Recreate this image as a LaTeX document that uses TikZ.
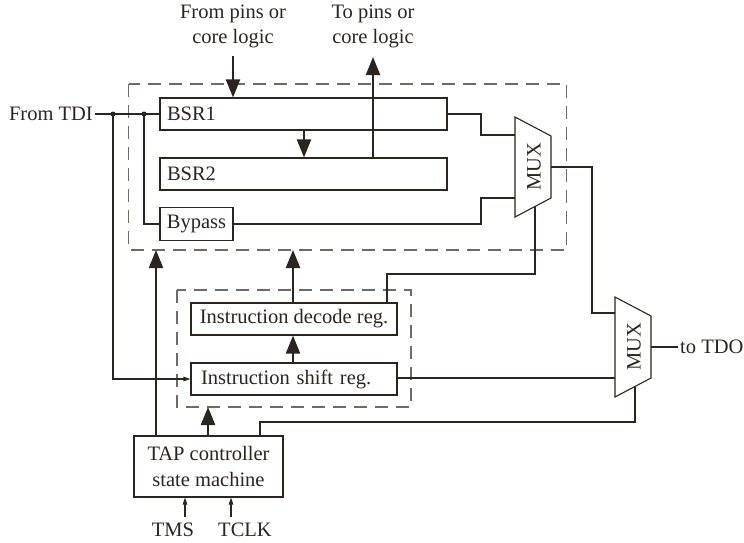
\documentclass[tikz,border=0pt]{standalone}
\usepackage{fontspec}
\setmainfont{Liberation Serif}
\usetikzlibrary{arrows.meta}
\definecolor{ink}{HTML}{2A251F}
\definecolor{dashc}{HTML}{6E6A65}
\tikzset{
  reg/.style={draw=ink, line width=1.1pt, rectangle, inner ysep=0pt, font=\fontsize{20.5}{25}\selectfont, text=ink},
  lbl/.style={font=\fontsize{20.5}{25}\selectfont, text=ink, inner sep=0pt},
  thin/.style={draw=ink, line width=1.1pt},
  thick/.style={draw=ink, line width=2.2pt, -{Triangle[length=18pt,width=14pt]}},
  small/.style={draw=ink, line width=1.1pt, -{Triangle[length=7pt,width=4.5pt]}},
  dbox/.style={draw=dashc, line width=1.3pt, dash pattern=on 13pt off 8pt},
  muxs/.style={draw=ink, line width=1.1pt},
  dot/.style={circle, fill=ink, inner sep=0pt, minimum size=5pt},
}
\begin{document}
\begin{tikzpicture}[x=1pt,y=-1pt]
\useasboundingbox (0,0) rectangle (744,542);
% dashed boxes
\draw[dbox] (128.5,84) rectangle (566.5,250);
\draw[dbox] (177,290) rectangle (411,407);
% registers
\node[reg, minimum width=287pt, minimum height=32pt, text width=273pt, align=left, inner xsep=7pt] (bsr1) at (303.5,114) {BSR1};
\node[reg, minimum width=287pt, minimum height=32pt, text width=273pt, align=left, inner xsep=7pt] (bsr2) at (303.5,174) {BSR2};
\node[reg, minimum width=73pt, minimum height=33pt, inner xsep=5pt] (bypass) at (196.5,224) {Bypass};
\node[reg, minimum width=206pt, minimum height=32pt, inner xsep=4pt] (idec) at (294,319) {Instruction decode reg.};
\node[reg, minimum width=206pt, minimum height=32pt, text width=186pt, align=left, inner xsep=10pt] (ishift) at (294,379) {Instruction shift reg.};
\node[reg, minimum width=149pt, minimum height=61pt, align=center, font=\fontsize{20.5}{26}\selectfont] (tap) at (208.5,466.5) {TAP controller\\state machine};
% labels
\node[lbl, anchor=east] (tdi) at (93,114) {From TDI};
\node[lbl, align=center] (fpins) at (233,26) {From pins or\\core logic};
\node[lbl, align=center] (tpins) at (373,26) {To pins or\\core logic};
\node[lbl, anchor=west] (tdo) at (680,347) {to TDO};
\node[lbl] (tms) at (173,530) {TMS};
\node[lbl] (tclk) at (245,530) {TCLK};
% MUX 1
\draw[muxs] (515,117) -- (551,136) -- (551,198) -- (515,217) -- cycle;
\node[lbl, rotate=90] (mux1) at (534,167) {MUX};
\coordinate (m1a) at (515,135);
\coordinate (m1b) at (515,198);
\coordinate (m1o) at (551,167);
\coordinate (m1s) at (535,206.5);
% MUX 2
\draw[muxs] (615,297) -- (651,316) -- (651,378) -- (615,397) -- cycle;
\node[lbl, rotate=90] (mux2) at (634,347) {MUX};
\coordinate (m2a) at (615,313);
\coordinate (m2b) at (615,378);
\coordinate (m2o) at (651,347);
\coordinate (m2s) at (635,386.5);
% TDI fan-out
\coordinate (j1) at (113,114);
\coordinate (j2) at (144,114);
\draw[thin] (tdi.east) ++(2,0) -- (bsr1.west);
\node[dot] at (j1) {};
\node[dot] at (j2) {};
\draw[thin] (j2) |- (bypass.west);
\draw[small] (j1) |- (ishift.west);
% BSR outputs to MUX1
\draw[thin] (bsr1.east) -- (481,114) |- (m1a);
\draw[thin] (bypass.east) -- (481,224) |- (m1b);
% MUX1 to MUX2
\draw[thin] (m1o) -- (592,167) |- (m2a);
\draw[thin] (ishift.east) |- (m2b);
\draw[thin] (m2o) -- ([xshift=-2pt]tdo.west);
% select lines
\draw[thin] (m1s) -- (535,274) -| (387,303);
\draw[thin] (tap.north -| 260,0) -- (260,422) -| (m2s);
% thick arrows
\draw[thick] (233,56) -- (bsr1.north -| 233,0);
\draw[thick] (bsr1.south -| 304,0) -- (bsr2.north -| 304,0);
\draw[thick] (bsr2.north -| 373,0) -- (373,57);
\draw[thick] (ishift.north -| 293,0) -- (idec.south -| 293,0);
\draw[thick] (idec.north -| 293,0) -- (293,250);
\draw[thick] (tap.north -| 156,0) -- (156,250);
\draw[thick] (tap.north -| 208,0) -- (208,407);
% TMS / TCLK
\draw[small] (185,517) -- (tap.south -| 185,0);
\draw[small] (231,517) -- (tap.south -| 231,0);
\end{tikzpicture}
\end{document}
